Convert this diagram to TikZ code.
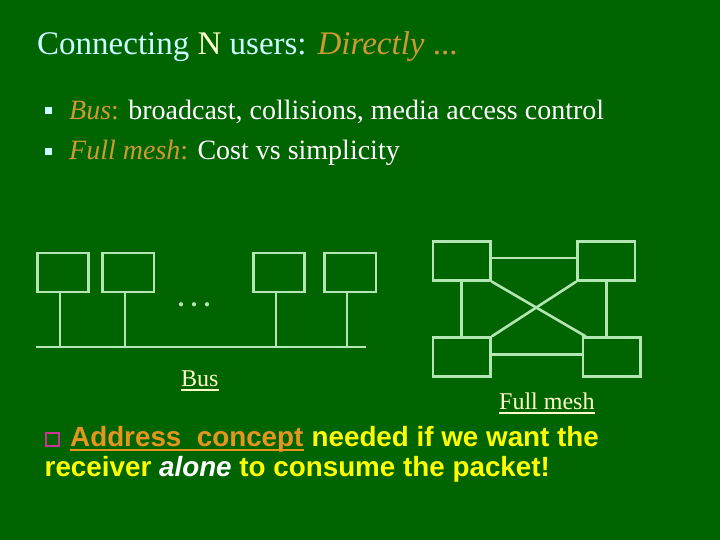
\documentclass[tikz,border=0pt]{standalone}
\usepackage{fontspec}
\setmainfont{Liberation Serif}
\newfontfamily\arialfont{Liberation Sans}
\usepackage{xcolor}
\usepackage{tikz}
\usetikzlibrary{positioning}

\definecolor{slidegreen}{RGB}{0,100,0}
\definecolor{titlecyan}{RGB}{204,255,255}
\definecolor{paleyellow}{RGB}{255,255,204}
\definecolor{gold}{RGB}{204,153,51}
\definecolor{wire}{RGB}{179,230,179}
\definecolor{brightyellow}{RGB}{255,255,0}
\definecolor{orangeword}{RGB}{230,150,30}
\definecolor{checkpink}{RGB}{204,51,153}

\begin{document}
\begin{tikzpicture}[
    x=1pt, y=-1pt,
    host/.style={rectangle, draw=wire, line width=2.6pt, minimum width=51.5pt, minimum height=39pt, inner sep=0pt},
    meshhost/.style={host, minimum width=57.5pt},
    link/.style={draw=wire, line width=2.6pt},
    textline/.style={anchor=base west, inner sep=0pt, text=white, font=\fontsize{28}{32}\selectfont},
    caption/.style={anchor=base west, inner sep=0pt, text=paleyellow, font=\fontsize{24}{28}\selectfont},
    bulletsq/.style={rectangle, fill=titlecyan, minimum size=6.5pt, inner sep=0pt},
    boldline/.style={anchor=base west, inner sep=0pt, text=brightyellow, font=\arialfont\bfseries\fontsize{27.8}{32}\selectfont},
    underbar/.style={line width=1.6pt}
]
    \fill[slidegreen] (0,0) rectangle (720,540);
    \useasboundingbox (0,0) rectangle (720,540);

    % title and bullets
    \node (title) [anchor=base west, inner sep=0pt, font=\fontsize{33}{40}\selectfont] at (37,55)
        {\textcolor{titlecyan}{Connecting} \textcolor{paleyellow}{N} \textcolor{titlecyan}{users:} \textcolor{gold}{\textit{Directly} ...}};
    \node (sq1) [bulletsq] at (48.3,110.5) {};
    \node (busitem) [textline] at (69,120) {\textcolor{gold}{\textit{Bus}:} broadcast, collisions, media access control};
    \node (sq2) [bulletsq] at (48.3,151.5) {};
    \node (meshitem) [textline] at (69,160) {\textcolor{gold}{\textit{Full mesh}:} Cost vs simplicity};

    % bus
    \node (h1) [host] at (63,272.5) {};
    \node (h2) [host, right=11pt of h1] {};
    \node (h3) [host] at (279,272.5) {};
    \node (h4) [host, right=17pt of h3] {};
    \coordinate (busL) at (36,347);
    \coordinate (busR) at (366,347);
    \draw [link] (busL) -- (busR);
    \foreach \h in {h1,h2,h3,h4}
        \draw [link] ([xshift=-3pt]\h.south) -- ([xshift=-3pt]\h.south |- busL);
    \node (dots) [anchor=base, inner sep=0pt, text=wire, font=\bfseries\fontsize{26}{28}\selectfont] at (194,306) {.\ .\ .};
    \node (buslabel) [caption] at (181,386) {Bus};
    \draw [underbar, paleyellow] ([yshift=-4pt]buslabel.base west) -- ([yshift=-4pt]buslabel.base east);

    % full mesh
    \node (m1) [meshhost] at (461.7,260.8) {};
    \node (m2) [meshhost] at (606.3,260.8) {};
    \node (m3) [meshhost] at (461.7,357.2) {};
    \node (m4) [meshhost] at (611.8,357.2) {};
    \draw [link] ([yshift=3pt]m1.east) -- ([yshift=3pt]m2.west);
    \draw [link] ([yshift=3pt]m3.east) -- ([yshift=3pt]m3.east -| m4.west);
    \draw [link] (m1.south) -- (m3.north);
    \draw [link] (m2.south) -- (m2.south |- m4.north);
    \draw [link] (m1.south east) -- ([xshift=4pt]m4.north west);
    \draw [link] (m2.south west) -- (m3.north east);
    \node (meshlabel) [caption] at (499,409) {Full mesh};
    \draw [underbar, paleyellow] ([yshift=-4pt]meshlabel.base west) -- ([yshift=-4pt]meshlabel.base east);

    % bottom remark
    \node (chk) [rectangle, draw=checkpink, line width=2pt, minimum size=12.5pt, inner sep=0pt] at (52.5,439.5) {};
    \node (addrword) [boldline, text=orangeword] at (70,446) {Address\ \ concept};
    \draw [underbar, orangeword] ([yshift=-4pt]addrword.base west) -- ([yshift=-4pt]addrword.base east);
    \node (addr) [boldline] at (addrword.base east) {\ needed if we want the};
    \node (addr2) [boldline] at (44.5,476.5) {receiver \textcolor{white}{\textit{alone}} to consume the packet!};
\end{tikzpicture}
\end{document}
